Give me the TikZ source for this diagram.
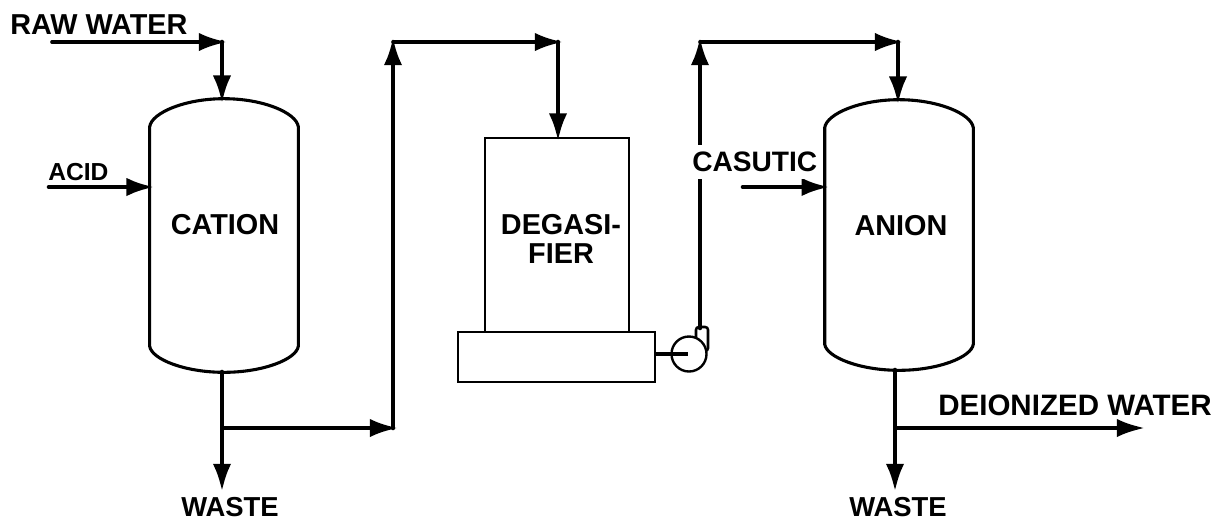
\documentclass[tikz,border=0pt]{standalone}
\usepackage{fontspec}
\setmainfont{Liberation Sans}
\usetikzlibrary{arrows.meta,calc}
\tikzset{
  vessel/.style={minimum width=3.7cm, inner sep=0pt},
  tank/.style={draw, line width=2pt, inner sep=0pt},
  flowlabel/.style={inner sep=0pt, font=\fontsize{20.5}{20}\selectfont\bfseries},
  wastelabel/.style={flowlabel, font=\fontsize{19.5}{20}\selectfont\bfseries},
  pipe/.style={-{Latex[length=7mm, width=4.6mm]}, line width=2.6pt, line cap=round, line join=round, shorten >=-1.2mm},
  thickpipe/.style={-{Latex[length=7mm, width=4.6mm]}, line width=3.3pt, line cap=round, line join=round, shorten >=-1.2mm}
}
\begin{document}
\begin{tikzpicture}[x=0.025cm, y=-0.025cm]
  \useasboundingbox (0,0) rectangle (1216,522);
  % vessels
  \node[vessel, minimum height=6.825cm] (cation) at (224,235.5) {};
  \node[vessel, minimum height=6.75cm] (anion) at (899,235) {};
  \foreach \vname in {cation,anion} {
    \draw[line width=2.2pt] ($(\vname.north west)+(0,28)$) .. controls ($(\vname.north west)+(2,14)$) and ($(\vname.north)+(-39,0)$) .. (\vname.north)
      .. controls ($(\vname.north)+(39,0)$) and ($(\vname.north east)+(-2,14)$) .. ($(\vname.north east)+(0,28)$)
      -- ($(\vname.south east)+(0,-26)$) .. controls ($(\vname.south east)+(-2,-13)$) and ($(\vname.south)+(39,0)$) .. (\vname.south)
      .. controls ($(\vname.south)+(-39,0)$) and ($(\vname.south west)+(2,-13)$) .. ($(\vname.south west)+(0,-26)$) -- cycle;
  }
  % degasifier, base and pump
  \node[tank, minimum width=3.6cm, minimum height=4.85cm] (degasifier) at (557,235) {};
  \node[tank, minimum width=4.925cm, minimum height=1.25cm] (base) at (556.5,357) {};
  \node[draw, line width=1.8pt, rounded corners=2pt, minimum width=0.3cm, minimum height=0.6cm, inner sep=0pt] (outlet) at (702,339) {};
  \node[draw, circle, line width=1.7pt, fill=white, minimum size=0.875cm, inner sep=0pt] (pump) at (689,354) {};
  \draw[line width=3.3pt] (base.east |- pump) -- ($(pump)+(-1,0)$);
  % pipe ends and bends
  \coordinate (rawin) at (52,42);
  \coordinate (rawbend) at (222,42);
  \coordinate (acidin) at (49,187);
  \coordinate (casuticin) at (743,187);
  \coordinate (cationout) at (222,372);
  \coordinate (cationtee) at (222,428);
  \coordinate (riserlow) at (393,428);
  \coordinate (risertop) at (393,42);
  \coordinate (degastop) at (558,42);
  \coordinate (pumpout) at (700,328);
  \coordinate (pumptop) at (700,42);
  \coordinate (aniontop) at (898,42);
  \coordinate (wasteleftend) at (222,487);
  \coordinate (wasterightend) at (895,487);
  \coordinate (anionout) at (895,370);
  \coordinate (aniontee) at (895,428);
  \coordinate (deionend) at (1140,428);
  % pipes
  \draw[pipe] (rawin) -- (rawbend);
  \draw[thickpipe] (rawbend) -- (rawbend |- cation.north);
  \draw[thickpipe] (acidin) -- (acidin -| cation.west);
  \draw[thickpipe] (cationout) -- (wasteleftend);
  \draw[pipe] (cationtee) -- (riserlow);
  \draw[thickpipe] (riserlow) -- (risertop);
  \draw[pipe] (risertop) -- (degastop);
  \draw[thickpipe] (degastop) -- (degastop |- degasifier.north);
  \draw[thickpipe] (pumpout) -- (pumptop);
  \draw[pipe] (pumptop) -- (aniontop);
  \draw[thickpipe] (aniontop) -- (aniontop |- anion.north);
  \draw[thickpipe] (casuticin) -- (casuticin -| anion.west);
  \draw[thickpipe] (anionout) -- (wasterightend);
  \draw[pipe] (aniontee) -- (deionend);
  % labels
  \node[flowlabel, anchor=west] (rawlabel) at (10,25) {RAW WATER};
  \node[flowlabel, anchor=west, font=\fontsize{17.5}{20}\selectfont\bfseries] (acidlabel) at (48,172) {ACID};
  \node[flowlabel] (cationlabel) at (225,225) {CATION};
  \node[flowlabel, align=center] (degaslabel) at (561,239) {DEGASI-\\[1pt]FIER};
  \node[flowlabel] (anionlabel) at (901,226) {ANION};
  \node[flowlabel, anchor=west, fill=white, inner ysep=5pt, font=\fontsize{20}{20}\selectfont\bfseries] (casuticlabel) at (692,162) {CASUTIC};
  \node[wastelabel] (wasteleft) at (230,507) {WASTE};
  \node[wastelabel] (wasteright) at (898,507) {WASTE};
  \node[flowlabel, anchor=west, font=\fontsize{21}{20}\selectfont\bfseries] (deionlabel) at (938,405) {DEIONIZED WATER};
\end{tikzpicture}
\end{document}
